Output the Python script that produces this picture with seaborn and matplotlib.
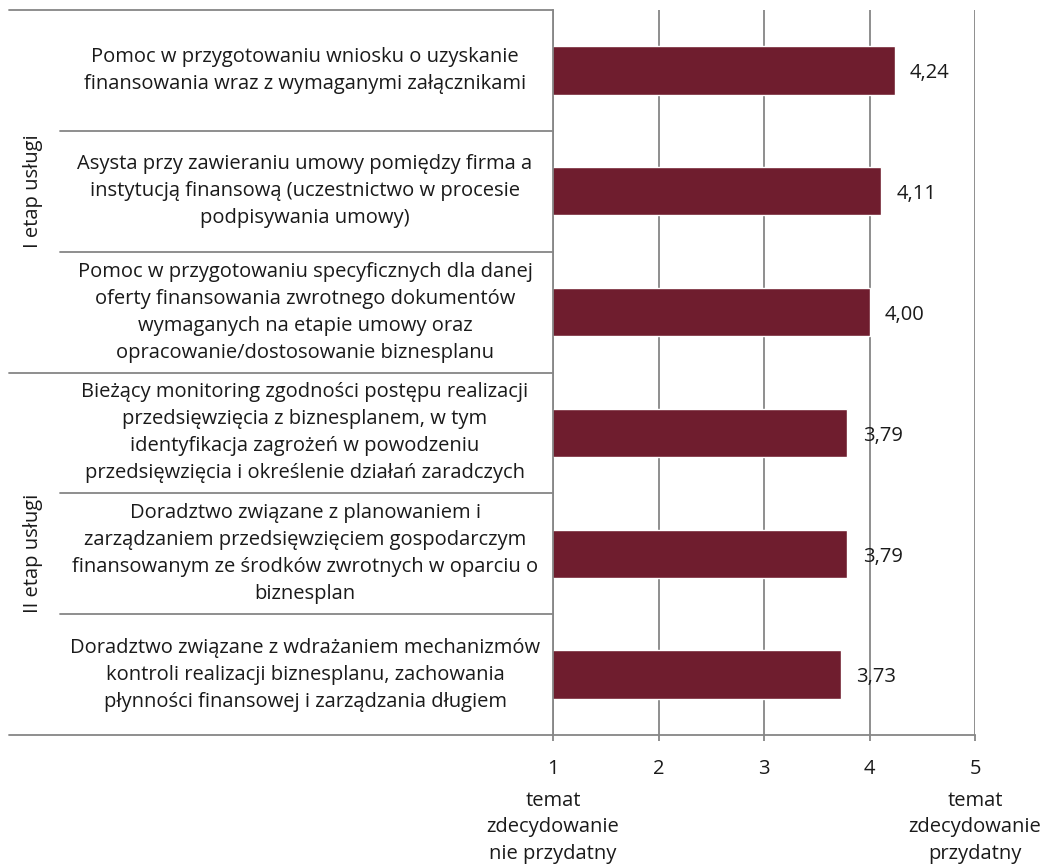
import seaborn as sns
import matplotlib
matplotlib.use("Agg")
import matplotlib.pyplot as plt
import pandas as pd
from matplotlib.transforms import blended_transform_factory
from matplotlib.lines import Line2D

categories = [
    "Pomoc w przygotowaniu wniosku o uzyskanie\nfinansowania wraz z wymaganymi załącznikami",
    "Asysta przy zawieraniu umowy pomiędzy firma a\ninstytucją finansową (uczestnictwo w procesie\npodpisywania umowy)",
    "Pomoc w przygotowaniu specyficznych dla danej\noferty finansowania zwrotnego dokumentów\nwymaganych na etapie umowy oraz\nopracowanie/dostosowanie biznesplanu",
    "Bieżący monitoring zgodności postępu realizacji\nprzedsięwzięcia z biznesplanem, w tym\nidentyfikacja zagrożeń w powodzeniu\nprzedsięwzięcia i określenie działań zaradczych",
    "Doradztwo związane z planowaniem i\nzarządzaniem przedsięwzięciem gospodarczym\nfinansowanym ze środków zwrotnych w oparciu o\nbiznesplan",
    "Doradztwo związane z wdrażaniem mechanizmów\nkontroli realizacji biznesplanu, zachowania\npłynności finansowej i zarządzania długiem",
]
values = [4.24, 4.11, 4.00, 3.79, 3.79, 3.73]
groups = ["I etap usługi", "II etap usługi"]
group_sizes = [3, 3]
xticks = [1, 2, 3, 4, 5]
xtick_labels = ["1", "2", "3", "4", "5"]
scale_notes = {1: "temat\nzdecydowanie\nnie przydatny",
               5: "temat\nzdecydowanie\nprzydatny"}

BAR = "#6f1d2e"
GRID = "#868686"
TEXT = "#1a1a1a"
FS = 14.5

sns.set_theme(style="white")
plt.rcParams["font.family"] = ["Open Sans", "DejaVu Sans"]

W, H = 1048, 865
fig = plt.figure(figsize=(W / 100, H / 100), dpi=100)
L, R, T, B = 553, 975, 10, 735
ax = fig.add_axes([L / W, 1 - B / H, (R - L) / W, (B - T) / H])

df = pd.DataFrame({"kategoria": categories, "wartosc": values})
sns.barplot(data=df, x="wartosc", y="kategoria", orient="h", color=BAR,
            saturation=1, width=0.4, ax=ax)

ax.set_xlim(1, 5)
ax.set_ylim(len(categories) - 0.5, -0.5)
ax.set_xticks(xticks)
ax.set_xticklabels(xtick_labels, fontsize=FS, color=TEXT)
ax.set_yticks([])
ax.set_xlabel("")
ax.set_ylabel("")
ax.xaxis.grid(True, color=GRID, lw=1.3)
ax.set_axisbelow(True)
ax.tick_params(axis="x", direction="out", length=4, width=1.3, color=GRID,
               pad=13, bottom=True)
for s in ["top", "right"]:
    ax.spines[s].set_visible(False)
for s in ["left", "bottom"]:
    ax.spines[s].set_color(GRID)
    ax.spines[s].set_linewidth(1.3)

# scale descriptions under the end ticks
xtrans = blended_transform_factory(ax.transData, fig.transFigure)
for xv, note in scale_notes.items():
    ax.text(xv, 1 - 791 / H, note, transform=xtrans, ha="center", va="top",
            multialignment="center", fontsize=FS, color=TEXT, linespacing=1.42,
            clip_on=False)

for i, v in enumerate(values):
    ax.annotate(f"{v:.2f}".replace(".", ","), xy=(v, i), xytext=(11, -2),
                textcoords="offset points", va="center", ha="left",
                fontsize=FS, color=TEXT)

trans = blended_transform_factory(fig.transFigure, ax.transData)
for i, c in enumerate(categories):
    fig.text(305 / W, i, c, transform=trans, ha="center", va="center",
             multialignment="center", fontsize=FS, color=TEXT, linespacing=1.47)

# separators
n = len(categories)
group_bounds = [-0.5]
acc = -0.5
for g in group_sizes:
    acc += g
    group_bounds.append(acc)
for k in range(n + 1):
    yb = k - 0.5
    x0 = 9 if yb in group_bounds else 60
    fig.add_artist(Line2D([x0 / W, L / W], [yb, yb], transform=trans,
                          color=GRID, lw=1.3, clip_on=False))

start = 0
for g, size in zip(groups, group_sizes):
    mid = start + (size - 1) / 2
    fig.text(33 / W, mid, g, transform=trans, rotation=90, ha="center",
             va="center", fontsize=FS, color=TEXT)
    start += size

fig.savefig("out.png", dpi=100)
